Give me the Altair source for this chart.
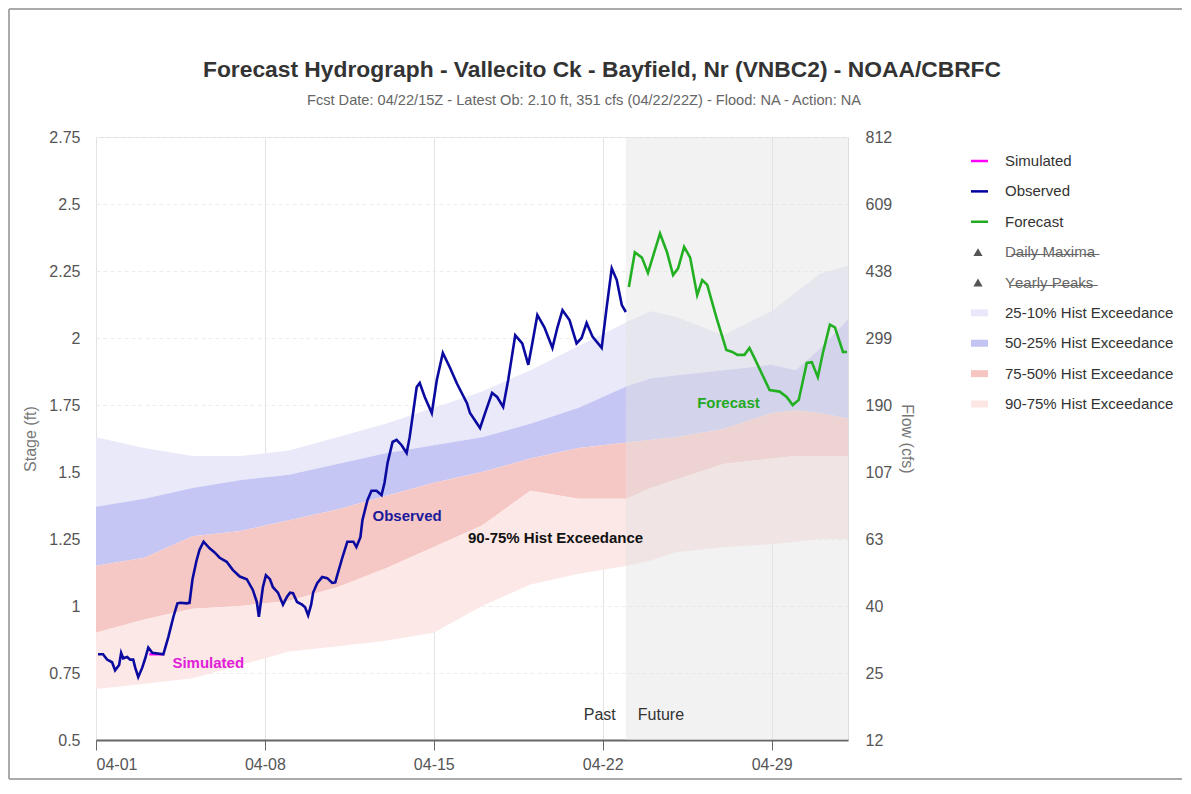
import altair as alt
import pandas as pd

# ---------------- data ----------------
obs_time = ["2024-04-01T02:00", "2024-04-01T07:00", "2024-04-01T11:00", "2024-04-01T16:00", "2024-04-01T19:00",
            "2024-04-01T23:00", "2024-04-02T01:00", "2024-04-02T03:00", "2024-04-02T07:00", "2024-04-02T10:00",
            "2024-04-02T13:00", "2024-04-02T15:00", "2024-04-02T18:00", "2024-04-02T22:00", "2024-04-03T01:00",
            "2024-04-03T04:00", "2024-04-03T08:00", "2024-04-03T19:00", "2024-04-04T00:00", "2024-04-04T05:00",
            "2024-04-04T09:00", "2024-04-04T12:00", "2024-04-04T18:00", "2024-04-04T21:00", "2024-04-05T00:00",
            "2024-04-05T04:00", "2024-04-05T07:00", "2024-04-05T11:00", "2024-04-05T17:00", "2024-04-05T22:00",
            "2024-04-06T03:00", "2024-04-06T10:00", "2024-04-06T16:00", "2024-04-06T23:00", "2024-04-07T06:00",
            "2024-04-07T12:00", "2024-04-07T16:00", "2024-04-07T18:00", "2024-04-07T22:00", "2024-04-08T01:00",
            "2024-04-08T05:00", "2024-04-08T08:00", "2024-04-08T13:00", "2024-04-08T18:00", "2024-04-08T22:00",
            "2024-04-09T01:00", "2024-04-09T04:00", "2024-04-09T08:00", "2024-04-09T13:00", "2024-04-09T16:00",
            "2024-04-09T19:00", "2024-04-09T22:00", "2024-04-10T00:00", "2024-04-10T04:00", "2024-04-10T09:00",
            "2024-04-10T14:00", "2024-04-10T19:00", "2024-04-10T22:00", "2024-04-11T00:00", "2024-04-11T05:00",
            "2024-04-11T10:00", "2024-04-11T16:00", "2024-04-11T19:00", "2024-04-11T23:00", "2024-04-12T01:00",
            "2024-04-12T06:00", "2024-04-12T10:00", "2024-04-12T15:00", "2024-04-12T20:00", "2024-04-12T23:00",
            "2024-04-13T02:00", "2024-04-13T07:00", "2024-04-13T11:00", "2024-04-13T16:00", "2024-04-13T21:00",
            "2024-04-14T00:00", "2024-04-14T03:00", "2024-04-14T07:00", "2024-04-14T10:00", "2024-04-14T15:00",
            "2024-04-14T22:00", "2024-04-15T03:00", "2024-04-15T09:00", "2024-04-15T16:00", "2024-04-15T23:00",
            "2024-04-16T09:00", "2024-04-16T12:00", "2024-04-16T22:00", "2024-04-17T03:00", "2024-04-17T10:00",
            "2024-04-17T15:00", "2024-04-17T21:00", "2024-04-18T02:00", "2024-04-18T09:00", "2024-04-18T16:00",
            "2024-04-18T22:00", "2024-04-19T02:00", "2024-04-19T07:00", "2024-04-19T14:00", "2024-04-19T22:00",
            "2024-04-20T03:00", "2024-04-20T08:00", "2024-04-20T15:00", "2024-04-20T22:00", "2024-04-21T03:00",
            "2024-04-21T08:00", "2024-04-21T14:00", "2024-04-21T23:00", "2024-04-22T04:00", "2024-04-22T09:00",
            "2024-04-22T14:00", "2024-04-22T19:00", "2024-04-22T23:00"]
obs_stage = [0.82, 0.82, 0.80, 0.79, 0.76,
             0.78, 0.825, 0.805, 0.81, 0.80,
             0.80, 0.77, 0.735, 0.77, 0.805,
             0.845, 0.825, 0.82, 0.885, 0.96,
             1.01, 1.012, 1.01, 1.012, 1.10,
             1.17, 1.21, 1.24, 1.215, 1.20,
             1.18, 1.165, 1.135, 1.11, 1.10,
             1.06, 1.015, 0.96, 1.07, 1.115,
             1.10, 1.07, 1.05, 1.005, 1.035,
             1.05, 1.048, 1.015, 1.005, 0.995,
             0.965, 1.005, 1.05, 1.085, 1.108,
             1.104, 1.086, 1.088, 1.115, 1.18,
             1.24, 1.24, 1.22, 1.257, 1.32,
             1.395, 1.43, 1.43, 1.414, 1.46,
             1.534, 1.612, 1.62, 1.60, 1.571,
             1.63, 1.71, 1.817, 1.832, 1.78,
             1.72, 1.843, 1.944, 1.89, 1.83,
             1.757, 1.72, 1.664, 1.72, 1.795,
             1.78, 1.743, 1.843, 2.01, 1.98,
             1.90, 1.98, 2.086, 2.04, 1.963,
             2.04, 2.104, 2.067, 1.98, 2.0,
             2.056, 2.004, 1.963, 2.116, 2.26,
             2.216, 2.123, 2.097]

fc_time = ["2024-04-23T02:00", "2024-04-23T08:00", "2024-04-23T15:00", "2024-04-23T21:00", "2024-04-24T09:00",
           "2024-04-24T16:00", "2024-04-24T22:00", "2024-04-25T03:00", "2024-04-25T09:00", "2024-04-25T15:00",
           "2024-04-25T22:00", "2024-04-26T03:00", "2024-04-26T08:00", "2024-04-26T17:00", "2024-04-27T03:00",
           "2024-04-27T09:00", "2024-04-27T14:00", "2024-04-27T21:00", "2024-04-28T02:00", "2024-04-28T07:00",
           "2024-04-28T22:00", "2024-04-29T08:00", "2024-04-29T15:00", "2024-04-29T21:00", "2024-04-30T03:00",
           "2024-04-30T11:00", "2024-04-30T16:00", "2024-04-30T22:00", "2024-05-01T03:00", "2024-05-01T10:00",
           "2024-05-01T15:00", "2024-05-01T23:00", "2024-05-02T03:00"]
fc_stage = [2.19, 2.32, 2.30, 2.243, 2.39,
            2.32, 2.235, 2.26, 2.34, 2.30,
            2.16, 2.216, 2.198, 2.078, 1.955,
            1.948, 1.937, 1.937, 1.963, 1.925,
            1.806, 1.80, 1.78, 1.75, 1.769,
            1.907, 1.91, 1.854, 1.944, 2.05,
            2.04, 1.948, 1.948]

sim_time = ["2024-04-03T05:00", "2024-04-03T19:00"]
sim_stage = [0.82, 0.82]

band_time = ["2024-04-01T00:00", "2024-04-03T00:00", "2024-04-05T00:00", "2024-04-07T00:00", "2024-04-09T00:00",
             "2024-04-11T00:00", "2024-04-13T00:00", "2024-04-15T00:00", "2024-04-17T00:00", "2024-04-19T00:00",
             "2024-04-21T00:00", "2024-04-23T00:00", "2024-04-24T00:00", "2024-04-25T00:00", "2024-04-27T00:00",
             "2024-04-29T00:00", "2024-04-30T00:00", "2024-05-01T00:00", "2024-05-02T04:00"]
p10 = [1.63, 1.59, 1.56, 1.56, 1.58, 1.63, 1.68, 1.74, 1.80, 1.88, 1.97, 2.06, 2.10, 2.08, 2.01, 2.10, 2.17, 2.24, 2.27]
p25 = [1.37, 1.40, 1.44, 1.47, 1.49, 1.53, 1.57, 1.60, 1.63, 1.68, 1.74, 1.82, 1.85, 1.86, 1.88, 1.90, 1.88, 1.96, 2.07]
p50 = [1.15, 1.18, 1.26, 1.28, 1.32, 1.36, 1.41, 1.46, 1.50, 1.55, 1.59, 1.61, 1.62, 1.63, 1.66, 1.72, 1.73, 1.72, 1.70]
p75 = [0.90, 0.95, 0.99, 1.00, 1.02, 1.07, 1.14, 1.22, 1.30, 1.43, 1.40, 1.40, 1.44, 1.47, 1.53, 1.55, 1.56, 1.56, 1.56]
p90 = [0.69, 0.71, 0.73, 0.78, 0.83, 0.85, 0.87, 0.90, 1.00, 1.08, 1.12, 1.15, 1.17, 1.20, 1.22, 1.23, 1.24, 1.25, 1.25]

band_names = ["25-10% Hist Exceedance", "50-25% Hist Exceedance", "75-50% Hist Exceedance", "90-75% Hist Exceedance"]
band_colors = ["#e8e8fa", "#c3c3f4", "#f6c5c2", "#fce7e5"]

stage_ticks = [0.5, 0.75, 1.0, 1.25, 1.5, 1.75, 2.0, 2.25, 2.5, 2.75]
flow_ticks = ["12", "25", "40", "63", "107", "190", "299", "438", "609", "812"]
date_ticks = [(2024, 4, 1), (2024, 4, 8), (2024, 4, 15), (2024, 4, 22), (2024, 4, 29)]
x_start, x_end = "2024-04-01T00:00", "2024-05-02T04:00"
future_start = "2024-04-22T23:00"

title_text = "Forecast Hydrograph - Vallecito Ck - Bayfield, Nr (VNBC2) - NOAA/CBRFC"
subtitle_text = "Fcst Date: 04/22/15Z - Latest Ob: 2.10 ft, 351 cfs (04/22/22Z) - Flood: NA - Action: NA"

label_text = ["Simulated", "Observed", "90-75% Hist Exceedance", "Forecast"]
label_time = ["2024-04-04T04:00", "2024-04-12T11:00", "2024-04-16T10:00", "2024-04-25T22:00"]
label_stage = [0.787, 1.336, 1.254, 1.757]
label_color = ["#e020d8", "#1a1a9a", "#111111", "#22aa22"]

legend_labels = ["Simulated", "Observed", "Forecast",
                 "D\u0336a\u0336i\u0336l\u0336y\u0336 \u0336M\u0336a\u0336x\u0336i\u0336m\u0336a\u0336",
                 "Y\u0336e\u0336a\u0336r\u0336l\u0336y\u0336 \u0336P\u0336e\u0336a\u0336k\u0336s\u0336",
                 "25-10% Hist Exceedance", "50-25% Hist Exceedance", "75-50% Hist Exceedance", "90-75% Hist Exceedance"]
legend_colors = ["#ff00ff", "#0000a0", "#22aa22", "#555555", "#555555",
                 "#e8e8fa", "#c3c3f4", "#f6c5c2", "#fce7e5"]
legend_kinds = ["line", "line", "line", "tri", "tri", "band", "band", "band", "band"]
legend_text_colors = ["#333333", "#333333", "#333333", "#666666", "#666666", "#333333", "#333333", "#333333", "#333333"]

# ---------------- frames ----------------
W, H = 752, 603
FONT = "Liberation Sans, Arial, sans-serif"

obs_df = pd.DataFrame({"t": obs_time, "s": obs_stage})
fc_df = pd.DataFrame({"t": fc_time, "s": fc_stage})
sim_df = pd.DataFrame({"t": sim_time, "s": sim_stage})
bounds = [p10, p25, p50, p75, p90]
band_rows = []
for k, name in enumerate(band_names):
    for i, t in enumerate(band_time):
        band_rows.append({"t": t, "hi": bounds[k][i], "lo": bounds[k + 1][i], "band": name})
band_df = pd.DataFrame(band_rows)
lab_df = pd.DataFrame({"t": label_time, "s": label_stage, "txt": label_text, "c": label_color})
fut_df = pd.DataFrame({"t0": [future_start], "t1": [x_end], "s": [0.593]})
leg_df = pd.DataFrame({"idx": list(range(len(legend_labels))), "label": legend_labels,
                       "c": legend_colors, "kind": legend_kinds, "tc": legend_text_colors})
axis_df = pd.DataFrame({"s": stage_ticks})
one_df = pd.DataFrame({"title": [title_text], "subtitle": [subtitle_text]})

yscale = alt.Scale(domain=[0.5, 2.75], nice=False, zero=False)
xscale = alt.Scale(domain=[x_start, x_end], nice=False)

x_axis = alt.Axis(values=[alt.DateTime(year=y, month=m, date=d) for (y, m, d) in date_ticks],
                  format="%m-%d", title=None, labelColor="#555", labelFontSize=16, labelFont=FONT,
                  tickSize=10, tickColor="#666", domainColor="#666", domainWidth=2,
                  grid=True, gridColor="#e3e3e3", labelPadding=6)
y_axis = alt.Axis(values=stage_ticks, labelExpr="'' + datum.value", title="Stage (ft)",
                  titleColor="#777", titleFontWeight="normal", titleFontSize=16, titleFont=FONT,
                  labelColor="#555", labelFontSize=16, labelFont=FONT, domain=False, ticks=False,
                  labelPadding=16, titlePadding=10, grid=True, gridColor="#ececec", gridDash=[4, 3])

bands = alt.Chart(band_df).mark_area(opacity=0.95).encode(
    x=alt.X("t:T", scale=xscale, axis=x_axis),
    y=alt.Y("hi:Q", scale=yscale, axis=y_axis),
    y2="lo:Q",
    color=alt.Color("band:N", scale=alt.Scale(domain=band_names, range=band_colors), legend=None),
)
future = alt.Chart(fut_df).mark_rect(color="#e2e2e2", opacity=0.45).encode(
    x="t0:T", x2="t1:T", y=alt.value(0), y2=alt.value(H))
sim = alt.Chart(sim_df).mark_line(color="#ff00ff", strokeWidth=2.5).encode(x="t:T", y="s:Q")
obs = alt.Chart(obs_df).mark_line(color="#0a0aa0", strokeWidth=2.6).encode(x="t:T", y="s:Q")
fc = alt.Chart(fc_df).mark_line(color="#22b022", strokeWidth=2.6).encode(x="t:T", y="s:Q")
labels = alt.Chart(lab_df).mark_text(align="left", baseline="middle", fontWeight="bold",
                                     fontSize=15, font=FONT).encode(
    x="t:T", y="s:Q", text="txt:N", color=alt.Color("c:N", scale=None))
past_txt = alt.Chart(fut_df).mark_text(align="right", baseline="middle", dx=-10, fontSize=16,
                                       font=FONT, color="#333").encode(x="t0:T", y="s:Q", text=alt.value("Past"))
fut_txt = alt.Chart(fut_df).mark_text(align="left", baseline="middle", dx=12, fontSize=16,
                                      font=FONT, color="#333").encode(x="t0:T", y="s:Q", text=alt.value("Future"))

main = alt.layer(bands, future, sim, obs, fc, labels, past_txt, fut_txt)

right_axis = alt.Chart(axis_df).mark_point(opacity=0).encode(
    y=alt.Y("s:Q", scale=yscale, axis=alt.Axis(
        orient="right", values=stage_ticks, title="Flow (cfs)", titleAngle=90, titleColor="#777",
        titleFontWeight="normal", titleFontSize=16, titleFont=FONT, titlePadding=7,
        labelExpr="[" + ",".join("'%s'" % f for f in flow_ticks) + "][round((datum.value - 0.5) / 0.25)]",
        labelColor="#555", labelFontSize=16, labelFont=FONT, domain=False, ticks=False,
        labelPadding=17, grid=False)))

leg_y = alt.Y("idx:Q", scale=alt.Scale(domain=[0, 8], range=[24, 267]), axis=None)
leg_lines = alt.Chart(leg_df).transform_filter("datum.kind == 'line'").mark_rule(strokeWidth=2.5).encode(
    x=alt.value(875), x2=alt.value(892), y=leg_y, color=alt.Color("c:N", scale=None))
leg_bands = alt.Chart(leg_df).transform_filter("datum.kind == 'band'").mark_rule(strokeWidth=7).encode(
    x=alt.value(875), x2=alt.value(892), y=leg_y, color=alt.Color("c:N", scale=None))
leg_tri = alt.Chart(leg_df).transform_filter("datum.kind == 'tri'").mark_point(
    shape="triangle-up", filled=True, size=85, opacity=1).encode(
    x=alt.value(882), y=leg_y, color=alt.Color("c:N", scale=None))
leg_text = alt.Chart(leg_df).mark_text(align="left", baseline="middle", fontSize=15, font=FONT).encode(
    x=alt.value(909), y=leg_y, text="label:N", color=alt.Color("tc:N", scale=None))
legend = alt.layer(leg_lines, leg_bands, leg_tri, leg_text)

# page frame (left, top, bottom edges) and heading, positioned relative to the plot area
frame_left = alt.Chart(one_df).mark_rule(color="#aaaaaa", strokeWidth=2).encode(
    x=alt.value(-87), y=alt.value(-128), y2=alt.value(H + 39))
frame_top = alt.Chart(one_df).mark_rule(color="#aaaaaa", strokeWidth=2).encode(
    x=alt.value(-87), x2=alt.value(W + 420), y=alt.value(-128))
frame_bottom = alt.Chart(one_df).mark_rule(color="#aaaaaa", strokeWidth=2).encode(
    x=alt.value(-87), x2=alt.value(W + 420), y=alt.value(H + 39))
title_mark = alt.Chart(one_df).mark_text(align="center", baseline="middle", fontSize=22.8,
                                         fontWeight="bold", color="#333", font=FONT).encode(
    x=alt.value(506), y=alt.value(-67), text="title:N")
subtitle_mark = alt.Chart(one_df).mark_text(align="center", baseline="middle", fontSize=14.6,
                                            color="#666", font=FONT).encode(
    x=alt.value(488), y=alt.value(-36), text="subtitle:N")
heading = alt.layer(frame_left, frame_top, frame_bottom, title_mark, subtitle_mark)

chart = alt.layer(heading, main, right_axis, legend).resolve_scale(
    y="independent", color="independent").properties(
    width=W, height=H,
    autosize=alt.AutoSizeParams(type="none"),
    padding={"left": 88, "top": 129, "right": 334, "bottom": 40},
).configure_view(stroke="#cccccc", strokeWidth=1.5).configure(background="white")

chart.save("out.html", embed_options={"renderer": "svg", "actions": False})
